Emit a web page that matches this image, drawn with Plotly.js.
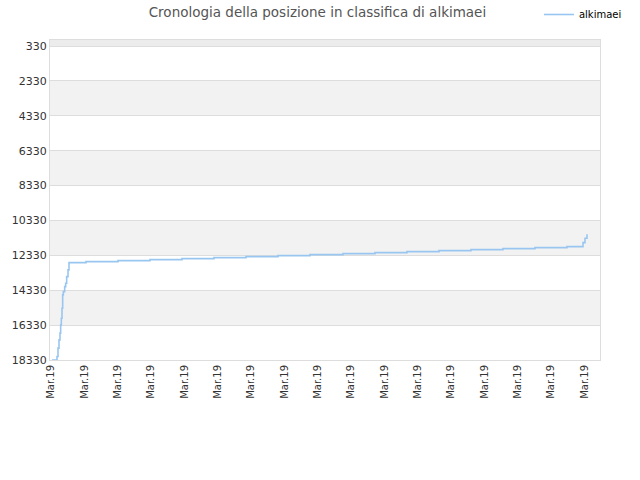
<!DOCTYPE html>
<html>
<head>
<meta charset="utf-8">
<script src="https://cdn.plot.ly/plotly-3.0.1.min.js"></script>
<style>
  body { margin: 0; background: #fff; }
  #chart { width: 640px; height: 480px; }
</style>
</head>
<body>
<div id="chart"></div>
<script>
// rank history for alkimaei (x = position along the time axis, in tick steps)
var rankX = [0.03, 0.18, 0.21, 0.24, 0.27, 0.29, 0.31, 0.33, 0.35, 0.37, 0.41, 0.44, 0.47, 0.51, 0.54,
             1.05, 2.01, 2.97, 3.93, 4.89, 5.85, 6.81, 7.77, 8.76, 9.72, 10.68, 11.64, 12.60, 13.56,
             14.52, 15.48, 15.96, 16.02, 16.08];
var rankY = [18330, 18133, 17652, 17176, 16792, 16317, 15933, 15360, 14598, 14409, 14122, 13927, 13549, 13165, 12747,
             12690, 12633, 12575, 12518, 12461, 12404, 12346, 12289, 12232, 12175, 12117, 12060, 12003, 11945,
             11888, 11831, 11600, 11350, 11120];

var yTicks = [330, 2330, 4330, 6330, 8330, 10330, 12330, 14330, 16330, 18330];
var yLabels = ['330', '2330', '4330', '6330', '8330', '10330', '12330', '14330', '16330', '18330'];
var xTicks = [0, 1, 2, 3, 4, 5, 6, 7, 8, 9, 10, 11, 12, 13, 14, 15, 16];
var xLabels = ['Mar.19', 'Mar.19', 'Mar.19', 'Mar.19', 'Mar.19', 'Mar.19', 'Mar.19', 'Mar.19', 'Mar.19',
               'Mar.19', 'Mar.19', 'Mar.19', 'Mar.19', 'Mar.19', 'Mar.19', 'Mar.19', 'Mar.19'];

var yTop = -14;

// alternating background bands between the y ticks
var shapes = [{
  type: 'rect', xref: 'paper', yref: 'y', x0: 0, x1: 1, y0: yTop, y1: yTicks[0],
  fillcolor: '#ececec', line: {width: 0}, layer: 'below'
}];
for (var i = 1; i < yTicks.length - 1; i += 2) {
  shapes.push({
    type: 'rect', xref: 'paper', yref: 'y', x0: 0, x1: 1, y0: yTicks[i], y1: yTicks[i + 1],
    fillcolor: '#f2f2f2', line: {width: 0}, layer: 'below'
  });
}

var trace = {
  x: rankX,
  y: rankY,
  type: 'scatter',
  mode: 'lines',
  name: 'alkimaei',
  line: {color: '#99c6f0', width: 1.6, shape: 'hv'}
};

var layout = {
  width: 640,
  height: 480,
  paper_bgcolor: '#fff',
  plot_bgcolor: '#fff',
  margin: {l: 50, r: 40, t: 40, b: 120},
  font: {family: 'DejaVu Sans', size: 11, color: '#333'},
  title: {
    text: 'Cronologia della posizione in classifica di alkimaei',
    font: {family: 'DejaVu Sans', size: 13.5, color: '#555'},
    x: 0.496, xanchor: 'center', y: 0.975, yanchor: 'middle'
  },
  showlegend: true,
  legend: {
    x: 0.889, xanchor: 'left', y: 1.0, yanchor: 'top',
    yref: 'container',
    font: {family: 'DejaVu Sans', size: 10, color: '#000'},
    bgcolor: 'rgba(0,0,0,0)'
  },
  xaxis: {
    range: [-0.03, 16.47],
    tickvals: xTicks,
    ticktext: xLabels,
    tickangle: -90,
    showgrid: false,
    zeroline: false,
    showline: true,
    linecolor: '#dddddd',
    mirror: true,
    ticks: '',
    tickfont: {size: 10, color: '#333'}
  },
  yaxis: {
    range: [18330, yTop],
    tickvals: yTicks,
    ticktext: yLabels,
    showgrid: true,
    gridcolor: '#dddddd',
    zeroline: false,
    showline: true,
    linecolor: '#dddddd',
    mirror: true,
    ticks: '',
    tickfont: {size: 11, color: '#333'}
  },
  shapes: shapes
};

Plotly.newPlot('chart', [trace], layout, {displayModeBar: false, staticPlot: true});
</script>
</body>
</html>
